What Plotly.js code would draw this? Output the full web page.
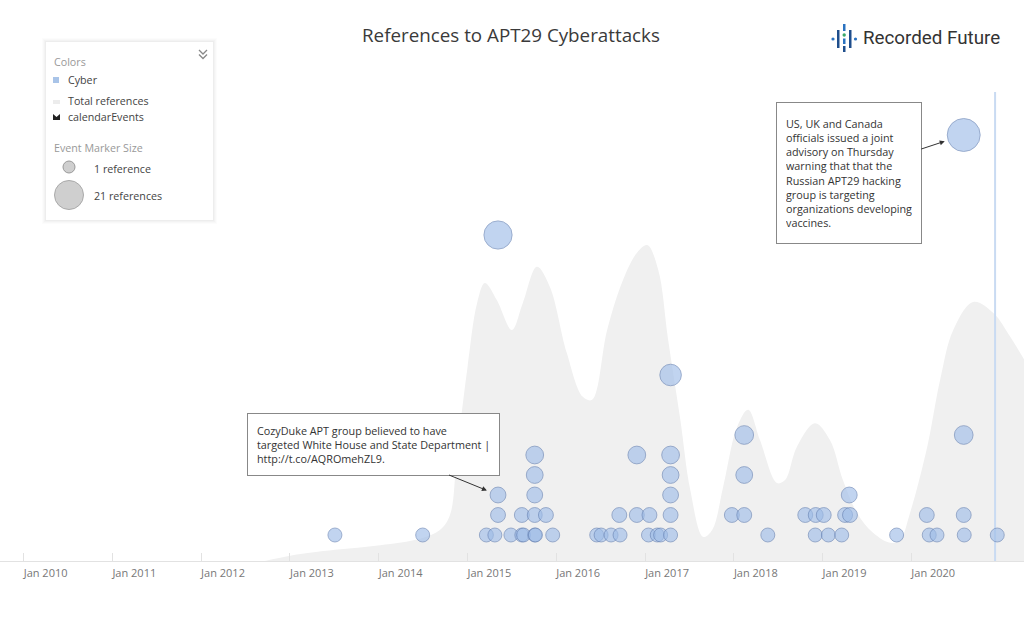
<!DOCTYPE html>
<html><head><meta charset="utf-8">
<script src="https://cdn.plot.ly/plotly-3.0.1.min.js"></script>
<style>html,body{margin:0;padding:0;background:#fff;} #chart{width:1024px;height:641px;}</style>
</head><body><div id="chart"></div>
<script>
// ---- data ----
const eventDates = [
 '2013-07-05','2014-07-01','2015-03-20','2015-04-24','2015-06-29','2015-08-13','2015-08-20','2015-10-05','2015-10-08','2015-12-18',
 '2016-06-16','2016-07-04','2016-08-14','2016-09-20','2017-01-15','2017-02-20','2017-03-06','2017-04-16','2018-05-21','2018-12-02',
 '2019-01-25','2019-03-21','2019-11-02','2020-03-15','2020-04-16','2020-08-06','2020-12-20',
 '2015-05-07','2015-08-13','2015-10-05','2015-11-20','2016-09-17','2016-11-28','2017-01-19','2017-04-16','2017-12-24','2018-02-13',
 '2018-10-22','2018-12-04','2019-01-06','2019-04-04','2019-04-24','2020-03-05','2020-08-04',
 '2015-05-07','2015-10-05','2017-04-16','2019-04-21',
 '2015-10-05','2017-04-16','2018-02-13',
 '2015-10-05','2016-11-28','2017-04-16',
 '2018-02-13','2020-08-04',
 '2017-04-16',
 '2015-05-07',
 '2020-08-04'
];
const eventRefs = [
 1,1,1,1,1,1,1,1,1,1,
 1,1,1,1,1,1,1,1,1,1,
 1,1,1,1,1,1,1,
 2,2,2,2,2,2,2,2,2,2,
 2,2,2,2,2,2,2,
 3,3,3,3,
 4,4,4,
 5,5,5,
 6,6,
 9,
 16,
 21
];
const totalDates = [
 '2012-09-20','2013-01-02','2013-07-05','2014-01-07','2014-06-20','2014-09-10','2014-10-21','2014-11-19','2014-12-31','2015-02-10',
 '2015-03-14','2015-05-02','2015-07-03','2015-08-17','2015-10-14','2015-12-06','2016-02-14','2016-04-20','2016-05-28','2016-07-29',
 '2016-10-03','2016-11-29','2017-01-10','2017-02-24','2017-04-06','2017-05-26','2017-07-06','2017-08-28','2017-10-04','2017-11-18',
 '2018-01-15','2018-03-01','2018-04-19','2018-06-28','2018-07-31','2018-09-18','2018-12-01','2019-02-01','2019-03-26','2019-05-23',
 '2019-07-28','2019-10-06','2019-11-16','2019-12-27','2020-03-07','2020-04-29','2020-06-22','2020-09-12','2020-12-04','2021-02-12',
 '2021-05-05'
];
const totalRefs = [
 0,0.9,1.9,2.7,3.8,5.3,7.8,18.4,32.6,44.0,
 47.4,44.5,39.4,44.0,50.2,46.8,35.5,28.0,27.5,39.4,
 48.0,52.6,53.9,49.7,37.7,24.1,12.1,4.1,5.3,12.6,
 22.9,25.8,20.6,13.3,13.8,19.5,23.5,20.6,13.8,8.2,
 4.8,3.1,3.6,8.2,19.5,30.9,39.4,44.2,42.3,38.2,
 32.6
];
const tickVals = ['2010-01-01','2011-01-01','2012-01-01','2013-01-01','2014-01-01','2015-01-01','2016-01-01','2017-01-01','2018-01-01','2019-01-01','2020-01-01'];
const tickText = ['Jan 2010','Jan 2011','Jan 2012','Jan 2013','Jan 2014','Jan 2015','Jan 2016','Jan 2017','Jan 2018','Jan 2019','Jan 2020'];
const nowDate = '2020-12-11';
const annot1 = {date:'2015-05-07', refs:3, text:'CozyDuke APT group believed to have<br>targeted White House and State Department |<br>http://t.co/AQROmehZL9.'};
const annot2 = {date:'2020-08-04', refs:21, text:'US, UK and Canada<br>officials issued a joint<br>advisory on Thursday<br>warning that that the<br>Russian APT29 hacking<br>group is targeting<br>organizations developing<br>vaccines.'};

// ---- layout helpers ----
const W=1024, H=641, MT=92, MB=80;
const PH = H-MT-MB;
const px = x => x/W;
const py = y => (H-MB-y)/PH;
const FONT = 'Open Sans, sans-serif';

const traces = [
 {x: totalDates, y: totalRefs, type:'scatter', mode:'lines', line:{shape:'spline', smoothing:1, width:0, color:'#f0f0f0'},
  fill:'tozeroy', fillcolor:'#f0f0f0', hoverinfo:'skip', xaxis:'x', yaxis:'y'},
 {x:[nowDate, nowDate], y:[0, 80], type:'scatter', mode:'lines', line:{color:'#c9dbf2', width:2}, hoverinfo:'skip', xaxis:'x', yaxis:'y'},
 {x: eventDates, y: eventRefs, type:'scatter', mode:'markers', xaxis:'x', yaxis:'y2',
  marker:{size: eventRefs.map(r => 13 + 0.95*r), color:'rgba(158,188,232,0.9)', line:{color:'rgba(98,126,176,0.85)', width:1}}, hoverinfo:'skip'}
];

const shapes = [];
const annotations = [];
function rect(x0,y0,x1,y1,fill,line){shapes.push({type:'rect',xref:'paper',yref:'paper',x0:px(x0),x1:px(x1),y0:py(y1),y1:py(y0),fillcolor:fill,line:line||{width:0},layer:'above'});}
function circ(cx,cy,r,fill,line){shapes.push({type:'circle',xref:'paper',yref:'paper',x0:px(cx-r),x1:px(cx+r),y0:py(cy+r),y1:py(cy-r),fillcolor:fill,line:line||{width:0},layer:'above'});}
function path(pts,fill,line){let d=pts.map((p,i)=>(p===null?'':(i===0||pts[i-1]===null?'M ':'L ')+px(p[0])+' '+py(p[1]))).join(' ');
  shapes.push({type:'path',xref:'paper',yref:'paper',path:d+(fill?' Z':''),fillcolor:fill||'rgba(0,0,0,0)',line:line||{width:0},layer:'above'});}
function text(x,y,t,size,color,anchor,fam){annotations.push({xref:'paper',yref:'paper',x:px(x),y:py(y),text:t,showarrow:false,xanchor:anchor||'left',yanchor:'middle',font:{family:fam||FONT,size:size,color:color}});}

// legend panel
rect(42,38,217,224,'rgba(0,0,0,0.012)');
rect(43,39,216,223,'rgba(0,0,0,0.016)');
rect(44,40,215,222,'rgba(0,0,0,0.02)');
rect(45,41,214,221,'rgba(0,0,0,0.025)');
rect(46,42,213,220,'#ffffff');
text(52,62,'Colors',10.7,'#999');
rect(53,77,59,83,'#a9c4e8');
text(66,80,'Cyber',10.7,'#444');
rect(53,100,60,104,'#ececec');
text(66,101,'Total references',10.7,'#444');
path([[53,120],[53,114],[56.5,117],[60,114],[60,120]],'#222');
text(66,117,'calendarEvents',10.7,'#444');
text(52,148,'Event Marker Size',10.7,'#999');
circ(69,167,6,'#cfcfcf',{color:'#999',width:1});
text(92,169,'1 reference',10.7,'#444');
circ(69,195,14.5,'#cfcfcf',{color:'#aaa',width:1});
text(92,196,'21 references',10.7,'#444');
path([[199,50],[203,54],[207,50],null,[199,54.5],[203,58.5],[207,54.5]],null,{color:'#888',width:1.3});

// logo
circ(833,39,1.6,'#2a72c0');
rect(837,30,839.5,48,'#1f4e8c');
rect(843,24,845.5,31,'#2a72c0');
circ(844.2,35,1.7,'#3aa86a');
rect(843,38.5,845.5,44,'#2a72c0');
rect(843,46,845.5,52,'#1f4e8c');
rect(849,30,851.5,48,'#1f4e8c');
circ(855.5,39,1.6,'#2a72c0');
text(861,38,'Recorded Future',18.8,'#333','left','Roboto, sans-serif');

// event callouts
annotations.push({x:annot1.date, y:annot1.refs, xref:'x', yref:'y2', text:annot1.text, showarrow:true, ax:-125, ay:-51,
  arrowhead:2, arrowsize:1, arrowwidth:1, arrowcolor:'#333', standoff:12, align:'left', bgcolor:'#fff', bordercolor:'#888', borderwidth:1, borderpad:9,
  font:{family:FONT,size:10.8,color:'#333'}});
annotations.push({x:annot2.date, y:annot2.refs, xref:'x', yref:'y2', text:annot2.text, showarrow:true, ax:-115, ay:38,
  arrowhead:2, arrowsize:1, arrowwidth:1, arrowcolor:'#333', standoff:20, align:'left', bgcolor:'#fff', bordercolor:'#888', borderwidth:1, borderpad:9,
  height:122, font:{family:FONT,size:10.8,color:'#333'}});

const layout = {
 width:W, height:H, margin:{l:0,r:0,t:MT,b:MB,pad:0},
 paper_bgcolor:'#fff', plot_bgcolor:'#fff', showlegend:false, hovermode:false,
 title:{text:'References to APT29 Cyberattacks', x:0.499, xanchor:'center', y:1-35/H, yanchor:'middle', yref:'container', font:{family:FONT,size:18.8,color:'#3a3a3a'}},
 xaxis:{type:'date', range:['2009-09-26','2021-04-09'], tickvals:tickVals, ticktext:tickText, ticks:'inside', ticklen:8, tickcolor:'#e2e2e2',
   showline:true, linecolor:'#e2e2e2', linewidth:1, showgrid:false, zeroline:false, ticklabelshift:22, ticklabelstandoff:2,
   tickfont:{family:FONT,size:11,color:'#777'}, fixedrange:true},
 yaxis:{range:[0,80], visible:false, fixedrange:true},
 yaxis2:{range:[-0.3,23.15], overlaying:'y', visible:false, fixedrange:true},
 shapes:shapes, annotations:annotations
};
Plotly.newPlot('chart', traces, layout, {displayModeBar:false, staticPlot:true});
</script></body></html>
